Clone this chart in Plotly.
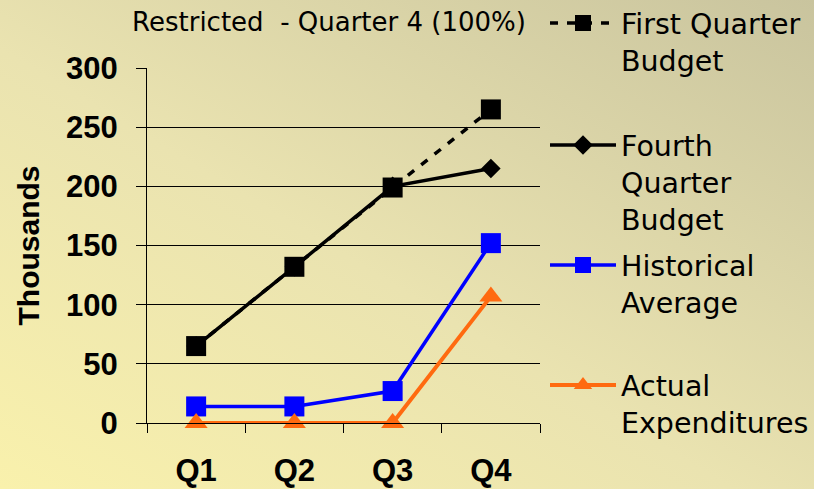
import base64
import plotly.graph_objects as go

quarters = ["Q1", "Q2", "Q3", "Q4"]
first_quarter_budget = [65, 132, 199, 265]
fourth_quarter_budget = [65, 132, 200, 215]
historical_average = [14, 14, 27, 152]
actual_expenditures = [0, 0, 0, 107]
y_ticks = [0, 50, 100, 150, 200, 250, 300]

W, H = 814, 489
L, R, T, B = 147, 274, 68, 66
pw, ph = W - L - R, H - T - B

svg = f'''<svg xmlns="http://www.w3.org/2000/svg" width="{W}" height="{H}" viewBox="0 0 {W} {H}">
<defs><linearGradient id="g" x1="0" y1="1" x2="1" y2="0">
<stop offset="0" stop-color="#f9f1ac"/>
<stop offset="0.45" stop-color="#eae3b0"/>
<stop offset="1" stop-color="#c9c49e"/>
</linearGradient></defs>
<rect width="{W}" height="{H}" fill="url(#g)"/>
</svg>'''
bg = "data:image/svg+xml;base64," + base64.b64encode(svg.encode()).decode()

fig = go.Figure()
fig.add_trace(go.Scatter(
    x=quarters, y=fourth_quarter_budget, name="Fourth<br>Quarter<br>Budget",
    mode="lines+markers", line=dict(color="black", width=3.5), cliponaxis=False,
    marker=dict(symbol="diamond", size=15, color="black"), legend="legend2"))
fig.add_trace(go.Scatter(
    x=quarters, y=first_quarter_budget, name="First Quarter<br>Budget",
    mode="lines+markers", line=dict(color="black", width=3.5, dash="8px,9px"),
    cliponaxis=False,
    marker=dict(symbol="square", size=20, color="black"), legend="legend"))
fig.add_trace(go.Scatter(
    x=quarters, y=historical_average, name="Historical<br>Average",
    mode="lines+markers", line=dict(color="#0000ff", width=3.5), cliponaxis=False,
    marker=dict(symbol="square", size=20, color="#0000ff"), legend="legend3"))
fig.add_trace(go.Scatter(
    x=quarters, y=actual_expenditures, name="Actual<br>Expenditures",
    mode="lines+markers", line=dict(color="#ff6a10", width=4), cliponaxis=False,
    marker=dict(symbol="triangle-up", size=20, color="#ff6a10"), legend="legend4"))

def px_to_paper_y(py):
    return (H - B - py) / ph

leg_font = dict(family="DejaVu Sans", size=28.5, color="black")
leg_common = dict(x=(545 - L) / pw, xanchor="left", yanchor="top", valign="top",
                  font=leg_font, bgcolor="rgba(0,0,0,0)", itemwidth=66,
                  borderwidth=0)

fig.update_layout(
    width=W, height=H,
    margin=dict(l=L, r=R, t=T, b=B, autoexpand=False),
    paper_bgcolor="#e6dfae", plot_bgcolor="rgba(0,0,0,0)",
    showlegend=True,
    title=dict(text="Restricted&nbsp; - Quarter 4 (100%)", x=329 / W, xanchor="center",
               y=1 - 22 / H, yanchor="middle",
               font=dict(family="DejaVu Sans", size=26, color="black")),
    legend=dict(y=px_to_paper_y(-2), **leg_common),
    legend2=dict(y=px_to_paper_y(120), **leg_common),
    legend3=dict(y=px_to_paper_y(240), **leg_common),
    legend4=dict(y=px_to_paper_y(360), **leg_common),
    xaxis=dict(type="category", range=[-0.5, 3.5], tickson="boundaries",
               showline=True, linecolor="black", linewidth=1,
               ticks="outside", ticklen=9, tickcolor="black", tickwidth=1,
               showgrid=False, zeroline=False, ticklabelstandoff=20,
               tickfont=dict(family="Liberation Sans", size=31, color="black",
                             weight="bold")),
    yaxis=dict(range=[0, 300], tickvals=y_ticks, ticktext=[str(v) for v in y_ticks],
               showline=True, linecolor="black", linewidth=1,
               ticks="outside", ticklen=10, tickcolor="black", tickwidth=1,
               showgrid=True, gridcolor="black", gridwidth=1, zeroline=False,
               ticklabelstandoff=12,
               tickfont=dict(family="Liberation Sans", size=31, color="black",
                             weight="bold"),
               title=dict(text="Thousands", standoff=17,
                          font=dict(family="Liberation Sans", size=30, color="black",
                                    weight="bold"))),
    images=[dict(source=bg, xref="paper", yref="paper",
                 x=-L / pw, y=1 + T / ph, sizex=W / pw, sizey=H / ph,
                 sizing="stretch", xanchor="left", yanchor="top", layer="below")],
)

fig.write_html("out.html", config={"displayModeBar": False},
               post_script="document.body.style.margin='0';")
